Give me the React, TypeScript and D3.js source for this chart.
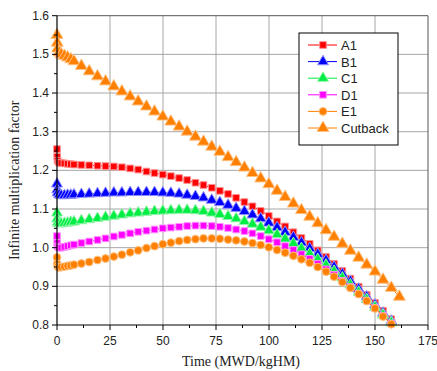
import React from 'react'
import * as d3 from 'd3'

// burnup steps (MWD/kgHM)
const xBase = [0, 0.1, 0.3, 1, 2, 3.5, 5, 6.5, 8, 11.5,
  15.2, 19.1, 22.9, 26.8, 30.6, 34.5, 38.3, 42.2, 46.0, 49.9,
  53.7, 57.6, 61.4, 65.3, 69.1, 73.0, 76.8, 80.7, 84.5, 88.4,
  92.2, 96.1, 99.9, 103.8, 107.6, 111.5, 115.3, 119.2, 123.0, 126.9,
  130.7, 134.6, 138.4, 142.3, 146.1, 150.0, 153.8, 157.7]
const xCutback = [...xBase, 161.5]

const kA1 = [1.255, 1.235, 1.225, 1.220, 1.219, 1.218, 1.217, 1.216, 1.215, 1.214,
  1.213, 1.212, 1.211, 1.210, 1.208, 1.205, 1.202, 1.197, 1.193, 1.189,
  1.185, 1.180, 1.175, 1.168, 1.162, 1.155, 1.147, 1.139, 1.129, 1.118,
  1.107, 1.095, 1.082, 1.068, 1.055, 1.040, 1.025, 1.010, 0.993, 0.976,
  0.958, 0.940, 0.920, 0.899, 0.878, 0.857, 0.837, 0.815]
const kB1 = [1.165, 1.150, 1.142, 1.137, 1.135, 1.135, 1.136, 1.136, 1.137, 1.138,
  1.139, 1.140, 1.141, 1.142, 1.142, 1.143, 1.143, 1.143, 1.143, 1.142,
  1.141, 1.139, 1.136, 1.133, 1.129, 1.123, 1.117, 1.110, 1.102, 1.094,
  1.085, 1.075, 1.064, 1.052, 1.040, 1.027, 1.013, 0.998, 0.983, 0.967,
  0.950, 0.932, 0.913, 0.893, 0.873, 0.852, 0.831, 0.810]
const kC1 = [1.090, 1.075, 1.065, 1.062, 1.062, 1.063, 1.064, 1.066, 1.067, 1.070,
  1.073, 1.076, 1.079, 1.082, 1.085, 1.088, 1.090, 1.092, 1.094, 1.095,
  1.096, 1.097, 1.097, 1.096, 1.094, 1.090, 1.086, 1.081, 1.075, 1.068,
  1.061, 1.053, 1.044, 1.034, 1.023, 1.011, 0.998, 0.984, 0.970, 0.955,
  0.939, 0.922, 0.904, 0.885, 0.866, 0.846, 0.826, 0.806]
const kD1 = [1.030, 1.012, 1.003, 1.000, 1.000, 1.002, 1.004, 1.006, 1.008, 1.012,
  1.016, 1.020, 1.024, 1.029, 1.033, 1.037, 1.041, 1.044, 1.047, 1.050,
  1.052, 1.054, 1.056, 1.057, 1.057, 1.056, 1.054, 1.051, 1.047, 1.043,
  1.037, 1.030, 1.022, 1.014, 1.004, 0.994, 0.983, 0.971, 0.958, 0.944,
  0.930, 0.914, 0.898, 0.881, 0.863, 0.844, 0.824, 0.804]
const kE1 = [0.975, 0.958, 0.951, 0.949, 0.950, 0.951, 0.953, 0.954, 0.956, 0.959,
  0.963, 0.968, 0.972, 0.977, 0.982, 0.988, 0.993, 0.999, 1.004, 1.009,
  1.013, 1.017, 1.020, 1.022, 1.024, 1.024, 1.023, 1.021, 1.019, 1.016,
  1.012, 1.007, 1.001, 0.994, 0.987, 0.979, 0.970, 0.961, 0.950, 0.938,
  0.925, 0.911, 0.896, 0.880, 0.862, 0.843, 0.822, 0.802]
const kCutback = [1.550, 1.530, 1.515, 1.505, 1.500, 1.496, 1.492, 1.487, 1.482, 1.470,
  1.456, 1.443, 1.430, 1.417, 1.404, 1.391, 1.378, 1.365, 1.352, 1.339,
  1.326, 1.313, 1.300, 1.287, 1.274, 1.261, 1.248, 1.234, 1.221, 1.207,
  1.193, 1.179, 1.164, 1.147, 1.131, 1.114, 1.097, 1.080, 1.063, 1.045,
  1.028, 1.010, 0.992, 0.974, 0.956, 0.938, 0.917, 0.896, 0.873]

const xTicks = [0, 25, 50, 75, 100, 125, 150, 175]
const yTicks = [0.8, 0.9, 1.0, 1.1, 1.2, 1.3, 1.4, 1.5, 1.6]

const series = [
  { name: 'A1', x: xBase, y: kA1, color: '#ff0000', halo: '#ff9090', shape: d3.symbolSquare, size: 44 },
  { name: 'B1', x: xBase, y: kB1, color: '#0000ff', halo: '#9090ff', shape: d3.symbolTriangle, size: 52 },
  { name: 'C1', x: xBase, y: kC1, color: '#00ee44', halo: '#90f5a8', shape: d3.symbolTriangle, size: 52 },
  { name: 'D1', x: xBase, y: kD1, color: '#ff00ff', halo: '#ff90ff', shape: d3.symbolSquare, size: 44 },
  { name: 'E1', x: xBase, y: kE1, color: '#ff8000', halo: '#ffc080', shape: d3.symbolCircle, size: 48 },
  { name: 'Cutback', x: xCutback, y: kCutback, color: '#ff8000', halo: '#ffc080', shape: d3.symbolTriangle, size: 62 },
]

export default function App() {
  const W = 437, H = 371
  const left = 57, right = 428, top = 15.7, bottom = 325
  const x = d3.scaleLinear().domain([0, 175]).range([left, right])
  const y = d3.scaleLinear().domain([0.8, 1.6]).range([bottom, top])
  const xMinor = d3.range(12.5, 175, 25)
  const yMinor = d3.range(0.85, 1.6, 0.1)
  const sans = 'Arial, "Liberation Sans", sans-serif'
  const serif = '"Times New Roman", "Liberation Serif", serif'

  return (
    <svg width={W} height={H} style={{ position: 'absolute', left: 0, top: 0, background: '#fff' }}>
      {/* grid */}
      {xTicks.slice(1, -1).map(t => (
        <line key={'gx' + t} x1={x(t)} x2={x(t)} y1={top} y2={bottom} stroke="#a6a6a6" strokeWidth={1} />
      ))}
      {yTicks.slice(1, -1).map(t => (
        <line key={'gy' + t} x1={left} x2={right} y1={y(t)} y2={y(t)} stroke="#a6a6a6" strokeWidth={1} />
      ))}
      {/* frame */}
      <line x1={left} x2={right} y1={top} y2={top} stroke="#555" strokeWidth={1} />
      <line x1={right} x2={right} y1={top} y2={bottom} stroke="#555" strokeWidth={1} />

      {/* series */}
      {series.map(s => {
        const pts = s.x.map((v, i) => [x(v), y(s.y[i])] as [number, number])
        const sym = d3.symbol().type(s.shape).size(s.size)()
        return (
          <g key={s.name}>
            <path d={d3.line()(pts) || ''} fill="none" stroke={s.color} strokeWidth={1} />
            {pts.map((p, i) => (
              <path key={i} d={sym || ''} transform={`translate(${p[0]},${p[1]})`}
                fill={s.color} stroke={s.halo} strokeWidth={1} />
            ))}
          </g>
        )
      })}

      {/* axes */}
      <line x1={left} x2={left} y1={top} y2={bottom} stroke="#000" strokeWidth={1.2} />
      <line x1={left} x2={right} y1={bottom} y2={bottom} stroke="#000" strokeWidth={1.2} />
      {xTicks.map(t => (
        <g key={'xt' + t}>
          <line x1={x(t)} x2={x(t)} y1={bottom} y2={bottom + 5} stroke="#000" />
          <text x={x(t)} y={bottom + 20} textAnchor="middle" fontFamily={sans} fontSize={12} fill="#222">{t}</text>
        </g>
      ))}
      {xMinor.map(t => (
        <line key={'xm' + t} x1={x(t)} x2={x(t)} y1={bottom} y2={bottom + 3} stroke="#000" />
      ))}
      {yTicks.map(t => (
        <g key={'yt' + t}>
          <line x1={left - 5} x2={left} y1={y(t)} y2={y(t)} stroke="#000" />
          <text x={left - 8} y={y(t) + 4} textAnchor="end" fontFamily={sans} fontSize={12} fill="#222">{t.toFixed(1)}</text>
        </g>
      ))}
      {yMinor.map(t => (
        <line key={'ym' + t} x1={left - 3} x2={left} y1={y(t)} y2={y(t)} stroke="#000" />
      ))}

      <text x={241} y={366} textAnchor="middle" fontFamily={serif} fontSize={14} fill="#222">Time (MWD/kgHM)</text>
      <text transform={`translate(19,${(top + bottom) / 2 + 10}) rotate(-90)`} textAnchor="middle"
        fontFamily={serif} fontSize={14} fill="#222">Infinite multiplication factor</text>

      {/* legend */}
      <rect x={299} y={33} width={99} height={112} fill="#fff" stroke="#000" strokeWidth={1} />
      {series.map((s, i) => {
        const ly = 45 + i * 16.6
        const sym = d3.symbol().type(s.shape).size(s.size)()
        return (
          <g key={'lg' + s.name}>
            <line x1={308} x2={337} y1={ly} y2={ly} stroke={s.color} strokeWidth={1} />
            <path d={sym || ''} transform={`translate(323,${ly})`} fill={s.color} stroke={s.halo} strokeWidth={1} />
            <text x={341} y={ly + 5} fontFamily={sans} fontSize={13} fill="#222">{s.name}</text>
          </g>
        )
      })}
    </svg>
  )
}
